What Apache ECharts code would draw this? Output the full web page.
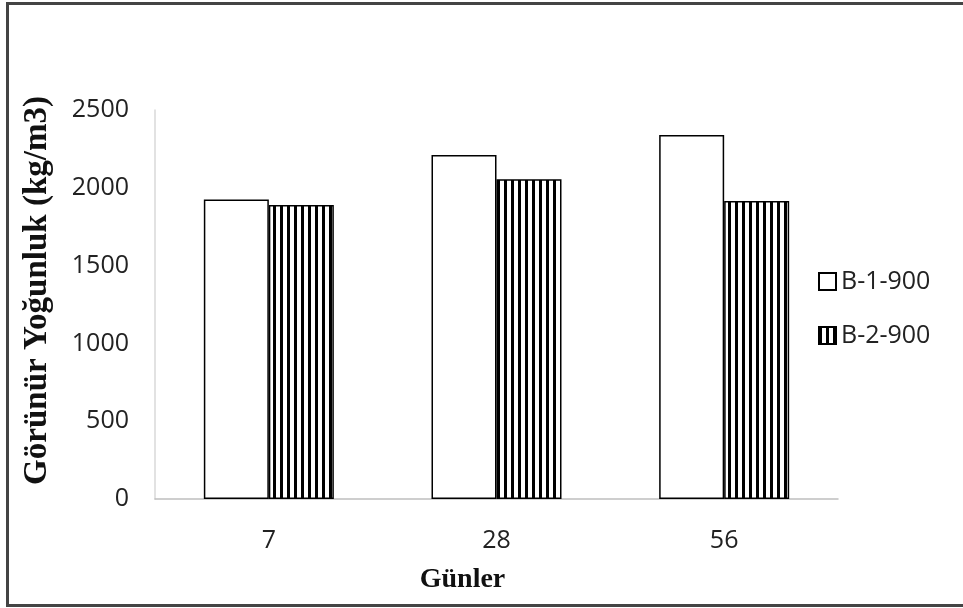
<!DOCTYPE html>
<html>
<head>
<meta charset="utf-8">
<script src="https://cdn.jsdelivr.net/npm/echarts@6/dist/echarts.min.js"></script>
<style>
html,body{margin:0;padding:0;background:#fff;overflow:hidden;}
#frame{position:absolute;left:6px;top:2px;width:1000px;height:599px;border:3px solid #444;border-right:none;box-sizing:content-box;}
#chart{position:absolute;left:0;top:0;width:963px;height:608px;}
</style>
</head>
<body>
<div id="frame"></div>
<div id="chart"></div>
<script>
const categories = ['7', '28', '56'];
const seriesNames = ['B-1-900', 'B-2-900'];
const b1Values = [1925, 2210, 2340];
const b2Values = [1890, 2055, 1915];
const yTicks = [0, 500, 1000, 1500, 2000, 2500];

function stripePattern() {
  const c = document.createElement('canvas');
  c.width = 7; c.height = 8;
  const ctx = c.getContext('2d');
  ctx.fillStyle = '#fff';
  ctx.fillRect(0, 0, 7, 8);
  ctx.fillStyle = '#000';
  ctx.fillRect(0, 0, 3, 8);
  return c;
}

const chart = echarts.init(document.getElementById('chart'), null, {renderer: 'canvas'});
const fontFam = '"Open Sans", "Noto Sans", sans-serif';
chart.setOption({
  animation: false,
  backgroundColor: 'transparent',
  grid: {left: 155, right: 125, top: 110, bottom: 109, containLabel: false},
  legend: {
    orient: 'vertical',
    left: 813,
    top: 264,
    itemGap: 29,
    itemWidth: 17,
    itemHeight: 17,
    icon: 'rect',
    textStyle: {fontFamily: fontFam, fontSize: 25, color: '#222'},
    data: seriesNames
  },
  xAxis: {
    type: 'category',
    data: categories,
    axisTick: {show: false},
    axisLine: {lineStyle: {color: '#bfbfbf', width: 1.5}},
    axisLabel: {fontFamily: fontFam, fontSize: 25, color: '#222', margin: 29},
    name: 'Günler',
    nameLocation: 'middle',
    nameGap: 67,
    nameTextStyle: {fontFamily: '"Liberation Serif", "Times New Roman", serif', fontWeight: 'bold', fontSize: 28, color: '#111', padding: [0, 68, 0, 0]}
  },
  yAxis: {
    type: 'value',
    min: yTicks[0],
    max: yTicks[yTicks.length - 1],
    interval: yTicks[1] - yTicks[0],
    splitLine: {show: false},
    axisTick: {show: false},
    axisLine: {show: true, lineStyle: {color: '#d9d9d9', width: 1.5}},
    axisLabel: {fontFamily: fontFam, fontSize: 25, color: '#222', margin: 26, formatter: v => String(v)},
    name: 'Görünür Yoğunluk (kg/m3)',
    nameLocation: 'middle',
    nameRotate: 90,
    nameGap: 101,
    nameTextStyle: {fontFamily: '"Liberation Serif", "Times New Roman", serif', fontWeight: 'bold', fontSize: 33, color: '#111', padding: [0, 0, 0, 28]}
  },
  series: [
    {
      name: seriesNames[0],
      type: 'bar',
      data: b1Values,
      barWidth: 65,
      barGap: '0%',
      itemStyle: {color: '#ffffff', borderColor: '#000', borderWidth: 1.5}
    },
    {
      name: seriesNames[1],
      type: 'bar',
      data: b2Values,
      barWidth: 65,
      barGap: '0%',
      itemStyle: {color: {image: stripePattern(), repeat: 'repeat'}, borderColor: '#000', borderWidth: 1.5}
    }
  ]
});
</script>
</body>
</html>
